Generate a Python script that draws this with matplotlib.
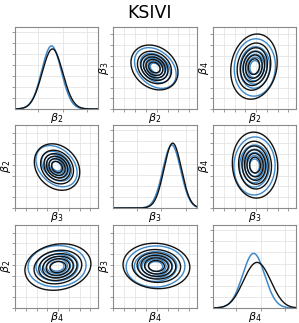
import numpy as np
import matplotlib
matplotlib.use("Agg")
import matplotlib.pyplot as plt
from matplotlib.ticker import MultipleLocator, FixedLocator

title = "KSIVI"
names = [r"$\beta_2$", r"$\beta_3$", r"$\beta_4$"]

# ---- 1D marginals (mixture components: weight, mean, std) ----
blue1d_w = [[1.0], [1.0], [1.0]]
blue1d_m = [[-0.46], [0.42], [-0.29]]
blue1d_s = [[0.40], [0.36], [0.45]]
black1d_w = [[1.0], [1.0], [0.5, 0.5]]
black1d_m = [[-0.42], [0.46], [-0.42, 0.12]]
black1d_s = [[0.42], [0.35], [0.45, 0.45]]
ylim_scale = [1.30, 1.28, 1.52]

# ---- 2D joint (Gaussian: means, stds, correlations 23, 24, 34) ----
blue_mean = [-0.12, -0.15, -0.10]
blue_std = [0.78, 0.78, 1.10]
blue_rho = [-0.32, 0.05, 0.02]
black_mean = [-0.20, -0.10, -0.02]
black_std = [0.88, 0.86, 1.25]
black_rho = [-0.22, 0.14, -0.06]

mass_levels = np.linspace(0.05, 1.0, 7)[:-1]

BLUE = "#3d88c8"
BLACK = "#111111"
GRID = "#e4e4e4"
SPINE = "#8a8a8a"

W, H = 299, 323
fig = plt.figure(figsize=(W / 100, H / 100), dpi=100)
cols_px = [(15, 98), (113, 197), (213, 296)]
rows_px = [(27, 109), (125, 208), (225, 308)]

fig.text(0.5, 1 - 12.5 / H, title, ha="center", va="center", fontsize=12.5)


def mix_pdf(x, w, m, s):
    y = np.zeros_like(x)
    for wi, mi, si in zip(w, m, s):
        y += wi * np.exp(-0.5 * ((x - mi) / si) ** 2) / (si * np.sqrt(2 * np.pi))
    return y


def cov_of(std, rho, a, b):
    pair = {(0, 1): 0, (1, 0): 0, (0, 2): 1, (2, 0): 1, (1, 2): 2, (2, 1): 2}
    r = rho[pair[(a, b)]]
    return np.array([[std[a] ** 2, r * std[a] * std[b]],
                     [r * std[a] * std[b], std[b] ** 2]])


def gauss2d(X, Y, mx, my, C):
    Ci = np.linalg.inv(C)
    dx, dy = X - mx, Y - my
    q = Ci[0, 0] * dx * dx + 2 * Ci[0, 1] * dx * dy + Ci[1, 1] * dy * dy
    return np.exp(-0.5 * q)  # normalised to peak = 1


lim2 = (-4.0, 3.7)
g = np.linspace(lim2[0], lim2[1], 300)
X, Y = np.meshgrid(g, g)

for i in range(3):
    for j in range(3):
        x0, x1 = cols_px[j]
        y0, y1 = rows_px[i]
        ax = fig.add_axes([x0 / W, 1 - y1 / H, (x1 - x0) / W, (y1 - y0) / H])
        xv = i
        yv = j
        if i == j:
            xs = np.linspace(-1.95, 1.44, 400)
            yb = mix_pdf(xs, blue1d_w[i], blue1d_m[i], blue1d_s[i])
            yk = mix_pdf(xs, black1d_w[i], black1d_m[i], black1d_s[i])
            ax.plot(xs, yb, color=BLUE, lw=1.1)
            ax.plot(xs, yk, color=BLACK, lw=1.0)
            top = max(yb.max(), yk.max()) * ylim_scale[i]
            ax.set_xlim(-1.95, 1.44)
            ax.set_ylim(0, top)
            ax.xaxis.set_major_locator(MultipleLocator(1))
            step = top * 0.134
            ax.yaxis.set_major_locator(FixedLocator(np.arange(1, 8) * step))
        else:
            Cb = cov_of(blue_std, blue_rho, xv, yv)
            Ck = cov_of(black_std, black_rho, xv, yv)
            Zb = gauss2d(X, Y, blue_mean[xv], blue_mean[yv], Cb)
            Zk = gauss2d(X, Y, black_mean[xv], black_mean[yv], Ck)
            ax.contour(X, Y, Zb, levels=mass_levels, colors=BLUE, linewidths=1.0)
            ax.contour(X, Y, Zk, levels=mass_levels, colors=BLACK, linewidths=1.0)
            ax.set_xlim(*lim2)
            ax.set_ylim(*lim2)
            ax.xaxis.set_major_locator(MultipleLocator(1))
            ax.yaxis.set_major_locator(MultipleLocator(1))
            ax.set_ylabel(names[yv], fontsize=8)
            ax.yaxis.set_label_coords(-0.02, 0.5)
        ax.set_xlabel(names[xv], fontsize=8)
        ax.xaxis.set_label_coords(0.5, -0.025)
        ax.grid(True, color=GRID, lw=0.6)
        ax.set_axisbelow(True)
        ax.tick_params(length=2, width=0.6, color=SPINE, labelleft=False,
                       labelbottom=False, pad=1)
        for sp in ax.spines.values():
            sp.set_color(SPINE)
            sp.set_linewidth(0.8)

fig.savefig("out.png", dpi=100)
